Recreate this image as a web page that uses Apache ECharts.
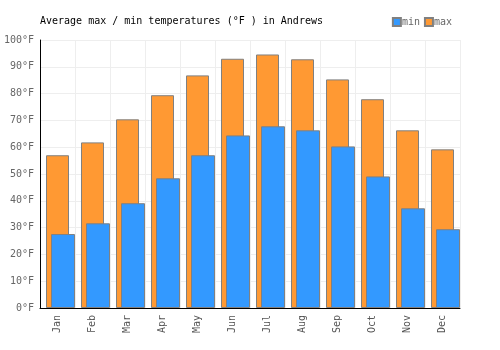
<!DOCTYPE html>
<html><head><meta charset="utf-8">
<script src="https://cdn.jsdelivr.net/npm/echarts@6/dist/echarts.min.js"></script>
<style>html,body{margin:0;padding:0;background:#fff}#c{width:500px;height:350px}</style>
</head><body><div id="c"></div>
<script>
const months = ['Jan','Feb','Mar','Apr','May','Jun','Jul','Aug','Sep','Oct','Nov','Dec'];
const minTemps = [27.6, 31.6, 39.1, 48.4, 57.0, 64.4, 67.8, 66.3, 60.3, 49.1, 37.2, 29.4];
const maxTemps = [57.0, 61.8, 70.4, 79.4, 86.8, 93.0, 94.6, 92.8, 85.3, 77.9, 66.3, 59.2];
const yTicks = [0, 10, 20, 30, 40, 50, 60, 70, 80, 90, 100];
const placeholder = months.map(() => '-');

const font = 'DejaVu Sans Mono';
const chart = echarts.init(document.getElementById('c'), null, {renderer: 'canvas'});
chart.setOption({
  animation: false,
  title: {
    text: 'Average max / min temperatures (°F ) in Andrews',
    left: 35, top: 11,
    textStyle: {fontFamily: font, fontSize: 10, fontWeight: 'normal', color: '#000'}
  },
  legend: {
    data: ['min', 'max'],
    right: 43, top: 12,
    itemWidth: 8, itemHeight: 8, itemGap: 4,
    textStyle: {fontFamily: font, fontSize: 10, color: '#666', padding: [0, 0, 0, -4]},
    icon: 'rect'
  },
  grid: {left: 40, right: 40, top: 40, bottom: 42, containLabel: false},
  xAxis: [{
    type: 'category', data: months, position: 'bottom',
    axisLine: {lineStyle: {color: '#000', width: 1}},
    axisTick: {show: false},
    splitLine: {show: true, lineStyle: {color: '#eeeeee'}},
    axisLabel: {rotate: 90, fontFamily: font, fontSize: 10, color: '#555', margin: 7}
  }, {
    type: 'category', data: months, show: false, position: 'bottom'
  }],
  yAxis: {
    type: 'value', min: yTicks[0], max: yTicks[yTicks.length - 1], interval: 10,
    axisLine: {show: true, lineStyle: {color: '#000'}},
    axisTick: {show: false},
    splitLine: {lineStyle: {color: '#eeeeee'}},
    axisLabel: {fontFamily: font, fontSize: 10, color: '#666', margin: 6, formatter: v => v + '°F'}
  },
  series: [{
    name: 'max', type: 'bar', xAxisIndex: 0, data: maxTemps,
    barWidth: 23,
    itemStyle: {color: '#FF9933', borderColor: '#808080', borderWidth: 1}
  }, {
    name: 'pad', type: 'bar', xAxisIndex: 1, data: placeholder,
    barWidth: 24, barGap: '-54%'
  }, {
    name: 'min', type: 'bar', xAxisIndex: 1, data: minTemps,
    barWidth: 24, barGap: '-54%',
    itemStyle: {color: '#3399FF', borderColor: '#808080', borderWidth: 1}
  }]
});
</script></body></html>
